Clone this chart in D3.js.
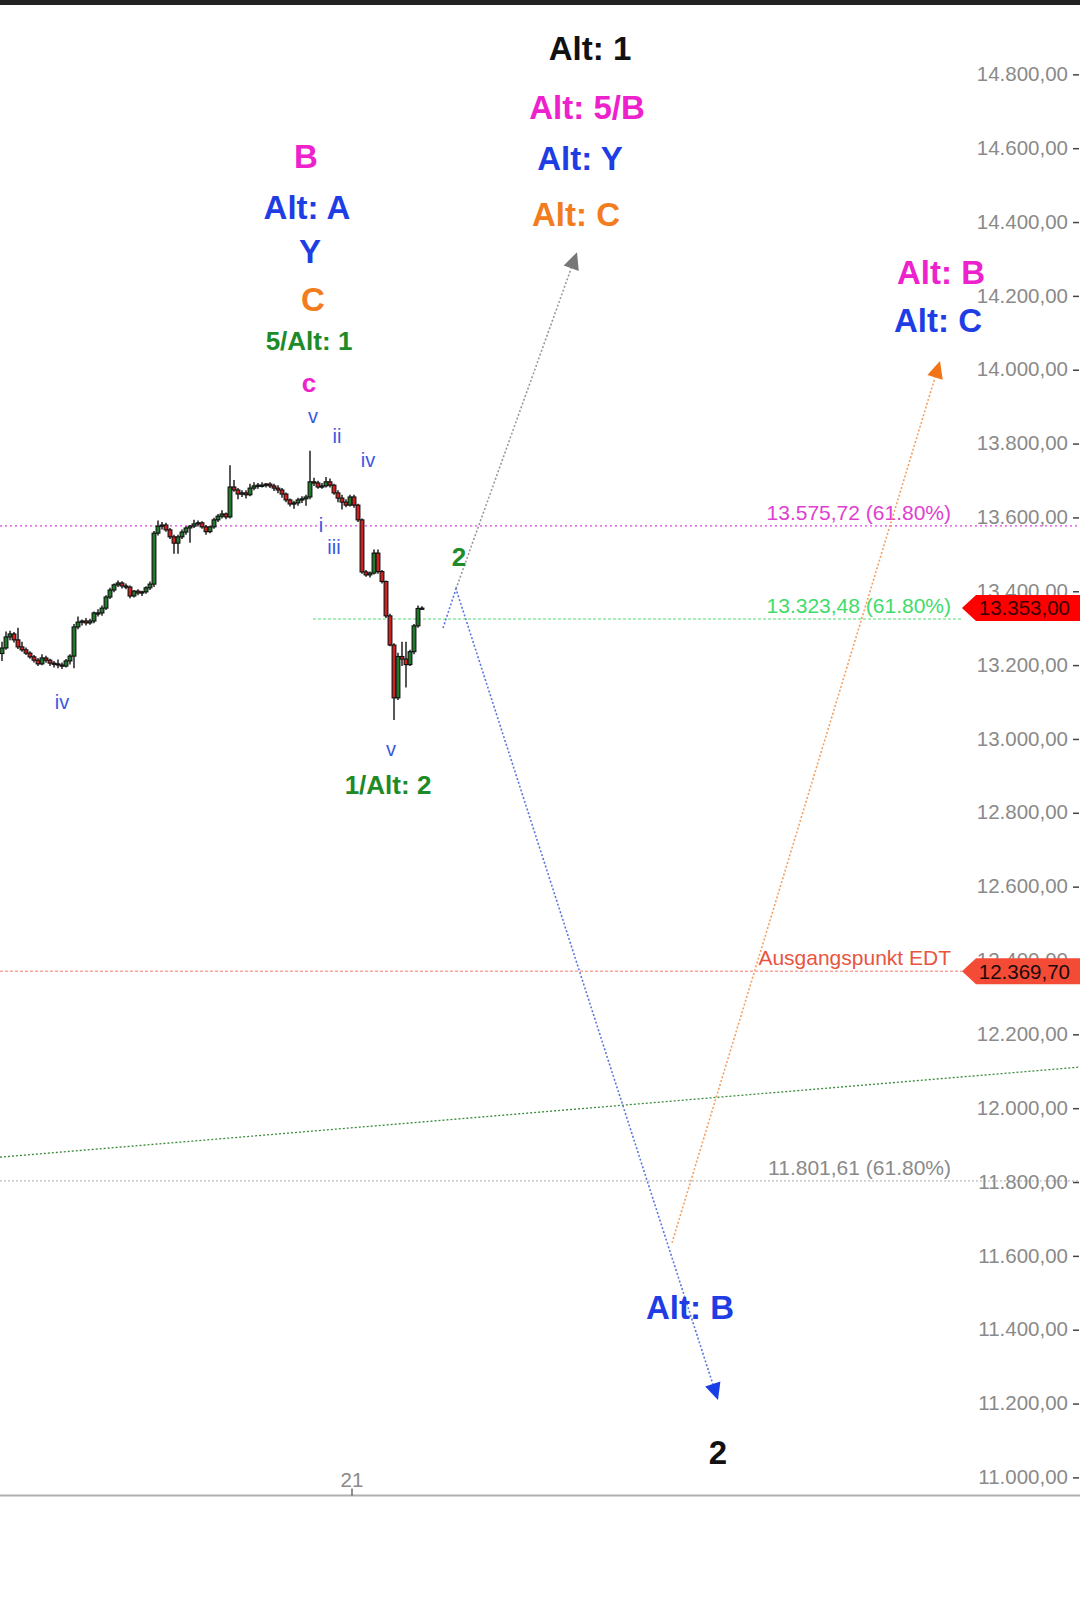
<!DOCTYPE html>
<html><head><meta charset="utf-8">
<script src="https://cdn.jsdelivr.net/npm/d3@7"></script>
<style>html,body{margin:0;padding:0;background:#fff;} svg{display:block}</style>
</head><body>
<script>
// ---------- DATA ----------
const opens = [13230,13245,13275,13283,13267,13248,13240,13231,13221,13212,
13202,13218,13212,13204,13202,13199,13196,13210,13223,13302,
13315,13318,13313,13318,13340,13340,13353,13383,13402,13416,
13421,13413,13410,13386,13399,13394,13397,13408,13418,13556,
13575,13578,13565,13546,13529,13546,13559,13570,13575,13581,
13584,13573,13560,13573,13592,13602,13608,13600,13681,13673,
13662,13665,13660,13678,13684,13686,13686,13689,13684,13678,
13673,13662,13646,13635,13638,13646,13649,13654,13695,13692,
13681,13684,13695,13686,13665,13651,13640,13632,13654,13632,
13592,13451,13443,13448,13502,13452,13425,13332,13253,13110,
13222,13215,13200,13235,13305,13352];
const highs = [13262,13290,13292,13288,13300,13262,13246,13236,13226,13218,
13228,13224,13216,13210,13214,13206,13215,13228,13310,13330,
13322,13326,13324,13344,13350,13360,13388,13408,13420,13428,
13426,13420,13414,13402,13404,13400,13412,13425,13562,13590,
13586,13584,13570,13552,13552,13566,13575,13578,13592,13590,
13588,13578,13576,13598,13608,13618,13612,13740,13700,13678,
13672,13672,13690,13694,13692,13694,13692,13694,13690,13686,
13678,13666,13650,13644,13652,13656,13660,13779,13706,13698,
13692,13708,13704,13690,13672,13660,13648,13660,13660,13636,
13596,13456,13452,13512,13512,13456,13428,13338,13258,13232,
13262,13262,13240,13310,13360,13358];
const lows = [13210,13240,13266,13260,13242,13235,13226,13216,13206,13196,
13198,13205,13196,13192,13190,13188,13192,13200,13190,13296,
13306,13306,13308,13312,13330,13332,13348,13378,13396,13410,
13406,13404,13380,13382,13388,13386,13392,13402,13410,13550,
13566,13560,13540,13500,13500,13540,13552,13530,13570,13574,
13568,13552,13556,13568,13586,13596,13594,13596,13668,13648,
13654,13650,13656,13672,13676,13680,13680,13678,13670,13664,
13652,13640,13628,13622,13630,13638,13630,13648,13684,13676,
13676,13680,13680,13660,13640,13620,13626,13628,13625,13586,
13446,13438,13436,13444,13446,13420,13326,13250,13050,13104,
13196,13138,13196,13228,13300,13348];
const closes = [13245,13275,13283,13267,13248,13240,13231,13221,13212,13202,
13218,13212,13204,13202,13199,13196,13210,13223,13302,13315,
13318,13313,13318,13340,13340,13353,13383,13402,13416,13421,
13413,13410,13386,13399,13394,13397,13408,13418,13556,13575,
13578,13565,13546,13529,13546,13559,13570,13575,13581,13584,
13573,13560,13573,13592,13602,13608,13600,13681,13673,13662,
13665,13660,13678,13684,13686,13686,13689,13684,13678,13673,
13662,13646,13635,13638,13646,13649,13654,13695,13692,13681,
13684,13695,13686,13665,13651,13640,13632,13654,13632,13592,
13451,13443,13448,13502,13452,13425,13332,13253,13110,13222,
13215,13200,13235,13305,13352,13353];

const yTickValues = [11000,11200,11400,11600,11800,12000,12200,12400,12600,12800,
  13000,13200,13400,13600,13800,14000,14200,14400,14600,14800];
const xTickBars = [88];
const xTickLabels = ["21"];

const levelValues = [13575.72, 13323.48, 12369.70, 11801.61];
const levelLabels = ["13.575,72 (61.80%)", "13.323,48 (61.80%)", "Ausgangspunkt EDT", "11.801,61 (61.80%)"];
const levelKinds = ["magenta", "green", "salmon", "gray"];
const levelStartBars = [0, 78.25, 0, 0];

const tagValues = [13353.00, 12369.70];
const tagKinds = ["last", "edt"];

const trendBars = [0, 270];
const trendPrices = [11866, 12110];

const grayArrowBars = [114, 144.25];
const grayArrowPrices = [13405, 14317];
const blueArrowBars = [110.75, 114, 179.5];
const blueArrowPrices = [13299, 13405, 11208];
const orangeArrowBars = [168, 235];
const orangeArrowPrices = [11634, 14022];

const waveTexts  = ["Alt: 1","Alt: 5/B","Alt: Y","Alt: C","B","Alt: A","Y","C","5/Alt: 1","c",
  "v","ii","iv","i","iii","iv","v","1/Alt: 2","2","Alt: B","Alt: C","Alt: B","2"];
const waveBars   = [147.5,146.75,145,144,76.5,76.75,77.5,78.25,77.25,77.25,
  78.25,84.25,92,80.25,83.5,15.5,97.75,97,114.75,235.25,234.5,172.5,179.5];
const wavePrices = [14870,14710,14572,14420,14577,14437,14318,14190,14076,13963,
  13873,13819,13754,13578,13519,13099,12971,12874,13491,14261,14131,11460,11067];
const waveKinds  = ["black","magenta","blue","orange","magenta","blue","blue","orange","greenM","magentaM",
  "small","small","small","small","small","small","small","greenM","greenM","magenta","blue","blue","black"];

// ---------- STYLES ----------
const W = 1080, H = 1608;
const FONT = "'Liberation Sans', Arial, sans-serif";
const waveStyle = {
  black:   {fill:"#111111", size:33, weight:"bold"},
  magenta: {fill:"#ee22cc", size:33, weight:"bold"},
  blue:    {fill:"#1f3de4", size:33, weight:"bold"},
  orange:  {fill:"#f27c1e", size:33, weight:"bold"},
  greenM:  {fill:"#1e8a28", size:26, weight:"bold"},
  magentaM:{fill:"#ee22cc", size:26, weight:"bold"},
  small:   {fill:"#3a58e0", size:20, weight:"normal"}
};
const levelStyle = {
  magenta:{stroke:"#e040e0", dash:"2,3", width:1.4, text:"#e040d0"},
  green:  {stroke:"#55dd77", dash:"3,2", width:1, text:"#3fdc6c"},
  salmon: {stroke:"#f07a6a", dash:"3,2", width:1, text:"#e8553f"},
  gray:   {stroke:"#aaaaaa", dash:"2,2", width:1, text:"#8a8a8a"}
};
const tagStyle = {
  last:{fill:"#ff0000", text:"#3a0000"},
  edt: {fill:"#f44b36", text:"#1a0a0a"}
};

// ---------- SCALES ----------
const x = d3.scaleLinear().domain([0, 270]).range([0, 1080]);
const y = d3.scaleLinear().domain([11000, 14800]).range([1476.9, 73.85]);
const loc = d3.formatLocale({decimal:",", thousands:".", grouping:[3], currency:["","€"]});
const fmt = loc.format(",.2f");

const svg = d3.select("body").append("svg").attr("width", W).attr("height", H)
  .style("font-family", FONT);
svg.append("rect").attr("width", W).attr("height", H).attr("fill", "#fff");
svg.append("rect").attr("width", W).attr("height", 5).attr("fill", "#222");

// ---------- LEVEL LINES ----------
const levels = levelValues.map((v,i)=>({v, label:levelLabels[i], kind:levelKinds[i], start:levelStartBars[i]}));
const gLev = svg.append("g");
levels.forEach(d=>{
  const st = levelStyle[d.kind];
  const endX = (d.kind==="green"||d.kind==="salmon") ? 962 : W;
  gLev.append("line").attr("x1", x(d.start)).attr("x2", endX)
    .attr("y1", y(d.v)).attr("y2", y(d.v))
    .attr("stroke", st.stroke).attr("stroke-width", st.width).attr("stroke-dasharray", st.dash);
});

// trend line
const line = d3.line().x(d=>x(d[0])).y(d=>y(d[1]));
svg.append("path").datum(trendBars.map((b,i)=>[b,trendPrices[i]]))
  .attr("d", line).attr("fill","none").attr("stroke","#3a8a3a")
  .attr("stroke-width",1.3).attr("stroke-dasharray","2,2");

// ---------- Y AXIS LABELS ----------
const gAx = svg.append("g");
yTickValues.forEach(v=>{
  gAx.append("text").attr("x", 1068).attr("y", y(v)).attr("dy","0.35em")
    .attr("text-anchor","end").attr("font-size",20.5).attr("fill","#8a8a8a")
    .text(fmt(v));
  gAx.append("line").attr("x1",1073).attr("x2",1079).attr("y1",y(v)+1).attr("y2",y(v)+1)
    .attr("stroke","#444").attr("stroke-width",1.5);
});

// level labels
levels.forEach(d=>{
  const st = levelStyle[d.kind];
  svg.append("text").attr("x", 951).attr("y", y(d.v)-6)
    .attr("text-anchor","end").attr("font-size",21).attr("fill",st.text)
    .text(d.label);
});

// ---------- CANDLES ----------
const candles = closes.map((c,i)=>({i, o:opens[i], h:highs[i], l:lows[i], c}));
const gC = svg.append("g");
candles.forEach(d=>{
  const cx = x(d.i + 0.5);
  gC.append("line").attr("x1",cx).attr("x2",cx).attr("y1",y(d.h)).attr("y2",y(d.l))
    .attr("stroke","#111").attr("stroke-width",1.4);
  const top = y(Math.max(d.o,d.c)), bot = y(Math.min(d.o,d.c));
  gC.append("rect").attr("x", cx-1.9).attr("width",3.8)
    .attr("y", top).attr("height", Math.max(1.2, bot-top))
    .attr("fill", d.c>=d.o ? "#1f7a2c" : "#d02020")
    .attr("stroke","#111").attr("stroke-width",1.1);
});

// ---------- ARROWS ----------
function arrow(bars, prices, color, dashColor){
  const pts = bars.map((b,i)=>[x(b), y(prices[i])]);
  const n = pts.length;
  const tip = pts[n-1], prev = pts[n-2];
  const dx = tip[0]-prev[0], dy = tip[1]-prev[1];
  const len = Math.hypot(dx,dy), ux = dx/len, uy = dy/len;
  const L = 17, hw = 8;
  const base = [tip[0]-ux*L, tip[1]-uy*L];
  const linePts = pts.slice(0,n-1).concat([base]);
  svg.append("path").attr("d", d3.line()(linePts)).attr("fill","none")
    .attr("stroke", dashColor).attr("stroke-width",1.6).attr("stroke-dasharray","2,2");
  const p1 = [base[0]-uy*hw, base[1]+ux*hw], p2 = [base[0]+uy*hw, base[1]-ux*hw];
  svg.append("path").attr("d", d3.line()([tip,p1,p2]) + "Z").attr("fill", color);
}
arrow(grayArrowBars, grayArrowPrices, "#777777", "#999999");
arrow(blueArrowBars, blueArrowPrices, "#1a3ee6", "#5a76e0");
arrow(orangeArrowBars, orangeArrowPrices, "#f27418", "#f4a060");

// ---------- WAVE LABELS ----------
waveTexts.forEach((t,i)=>{
  const st = waveStyle[waveKinds[i]];
  svg.append("text").attr("x", x(waveBars[i])).attr("y", y(wavePrices[i])).attr("dy","0.35em")
    .attr("text-anchor","middle").attr("font-size", st.size).attr("font-weight", st.weight)
    .attr("fill", st.fill).text(t);
});

// ---------- PRICE TAGS ----------
tagValues.forEach((v,i)=>{
  const st = tagStyle[tagKinds[i]];
  const cy = y(v), h = 26, tipX = 962, bodyX = 976;
  svg.append("path").attr("d", `M${tipX},${cy} L${bodyX},${cy-h/2} L${W},${cy-h/2} L${W},${cy+h/2} L${bodyX},${cy+h/2} Z`)
    .attr("fill", st.fill);
  svg.append("text").attr("x", 1070).attr("y", cy).attr("dy","0.36em")
    .attr("text-anchor","end").attr("font-size",20.5).attr("fill", st.text)
    .text(fmt(v));
});

// ---------- X AXIS ----------
const axY = 1495.5;
svg.append("line").attr("x1",0).attr("x2",W).attr("y1",axY).attr("y2",axY)
  .attr("stroke","#b0b0b0").attr("stroke-width",2);
xTickBars.forEach((b,i)=>{
  svg.append("line").attr("x1",x(b)).attr("x2",x(b)).attr("y1",axY-7).attr("y2",axY)
    .attr("stroke","#444").attr("stroke-width",1.2);
  svg.append("text").attr("x",x(b)).attr("y",1480).attr("dy","0.35em")
    .attr("text-anchor","middle").attr("font-size",20.5).attr("fill","#8a8a8a")
    .text(xTickLabels[i]);
});
</script>
</body></html>
